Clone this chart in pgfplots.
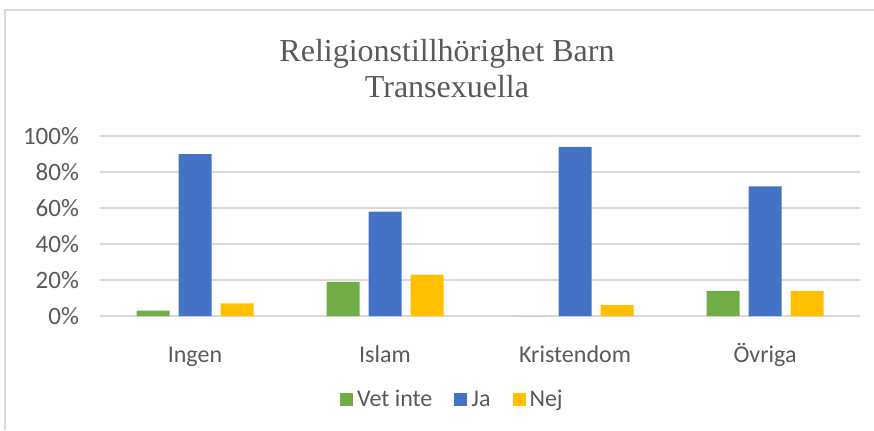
\documentclass[border=0pt]{standalone}
\usepackage{pgfplots}
\pgfplotsset{compat=1.18}
\usepackage{fontspec}
\setmainfont{Carlito}
\newfontfamily\titlefont{Liberation Serif}
\definecolor{cgreen}{HTML}{70AD47}
\definecolor{cblue}{HTML}{4472C4}
\definecolor{cyellow}{HTML}{FFC000}
\definecolor{cgrid}{HTML}{D9D9D9}
\definecolor{ctext}{HTML}{595959}
\begin{document}
\begin{tikzpicture}
\useasboundingbox (0,0) rectangle (437pt,215pt);
\draw[cgrid, line width=0.75pt] (2.5pt,0) -- (2.5pt,210pt) -- (437pt,210pt);
\node[anchor=base, text=ctext, font=\titlefont\fontsize{16}{19}\selectfont, inner sep=0pt] at (223.5pt,184.5pt) {Religionstillhörighet Barn};
\node[anchor=base, text=ctext, font=\titlefont\fontsize{16}{19}\selectfont, inner sep=0pt] at (223.5pt,166.5pt) {Transexuella};
\begin{axis}[
  scale only axis,
  width=380pt, height=90pt,
  at={(50pt,57pt)}, anchor=south west,
  ybar=4.5pt, bar width=16.5pt,
  xmin=-0.5, xmax=3.5, ymin=0, ymax=100,
  xtick={0,1,2,3},
  xticklabels={Ingen, Islam, Kristendom, Övriga},
  ytick={0,20,40,60,80,100},
  yticklabel={\pgfmathprintnumber{\tick}\%},
  /pgf/number format/assume math mode=true,
  ymajorgrids,
  grid style={cgrid, line width=0.75pt},
  axis line style={draw=none},
  major tick style={draw=none},
  xticklabel style={text=ctext, font=\fontsize{12}{14}\selectfont, yshift=-7.5pt, text height=8pt, text depth=0pt},
  yticklabel style={text=ctext, font=\fontsize{12.5}{14}\selectfont, xshift=-7pt},
  legend columns=3,
  legend style={at={(0.465,-0.467)}, anchor=center, draw=none, fill=none,
    font=\fontsize{12}{14}\selectfont, text=ctext,
    /tikz/every even column/.append style={column sep=9pt}},
  legend image code/.code={\fill[#1] (0pt,-3pt) rectangle (6.5pt,3.5pt);},
]
\addplot[fill=cgreen, draw=none] coordinates {(0,3) (1,19) (2,0) (3,14)};
\addplot[fill=cblue, draw=none] coordinates {(0,90) (1,58) (2,94) (3,72)};
\addplot[fill=cyellow, draw=none] coordinates {(0,7) (1,23) (2,6) (3,14)};
\legend{Vet inte, Ja, Nej}
\end{axis}
\end{tikzpicture}
\end{document}
